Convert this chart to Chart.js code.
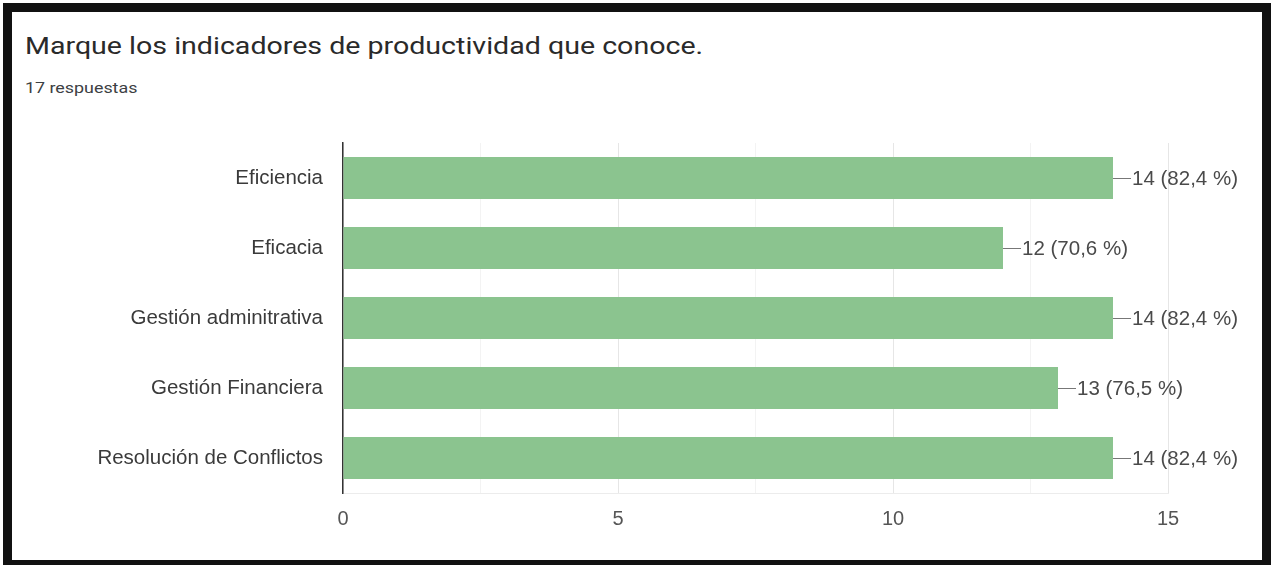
<!DOCTYPE html>
<html>
<head>
<meta charset="utf-8">
<script src="https://cdn.jsdelivr.net/npm/chart.js@4.4.1/dist/chart.umd.min.js"></script>
<style>
    body { margin: 0; background: #fff; }
    #frame {
        position: absolute;
        left: 3px; top: 3px;
        width: 1250px; height: 548px;
        border: 9px solid #111;
        background: #fff;
    }
    #title {
        position: absolute;
        left: 13px; top: 20px;
        font: 24px Roboto, sans-serif;
        color: #2a2a2a;
        white-space: nowrap;
        transform: scaleX(1.19);
        transform-origin: left top;
    }
    #subtitle {
        position: absolute;
        left: 13px; top: 67px;
        font: 15px Roboto, sans-serif;
        color: #3c4043;
        white-space: nowrap;
        transform: scaleX(1.19);
        transform-origin: left top;
    }
    #chartBox {
        position: absolute;
        left: 0; top: 108px;
        width: 1250px; height: 435px;
    }
</style>
</head>
<body>
<div id="frame">
    <div id="title">Marque los indicadores de productividad que conoce.</div>
    <div id="subtitle">17 respuestas</div>
    <div id="chartBox"><canvas id="indicatorChart"></canvas></div>
</div>

<script>
/* data */

const categories = [
    "Eficiencia",
    "Eficacia",
    "Gestión adminitrativa",
    "Gestión Financiera",
    "Resolución de Conflictos"
];
const responses = [14, 12, 14, 13, 14];
const totalResponses = 17;
const xTicks = [0, 5, 10, 15];

const barColor = "#8bc48f";
const fontFamily = "'Liberation Sans', Arial, sans-serif";

/* bar value labels with a short leader line */

const valueLabels = {
    id: "valueLabels",
    afterDatasetsDraw(chart) {
        const ctx = chart.ctx;
        const meta = chart.getDatasetMeta(0);
        ctx.save();
        ctx.font = `20.5px ${fontFamily}`;
        ctx.fillStyle = "#4a4a4a";
        ctx.strokeStyle = "#777";
        ctx.lineWidth = 1;
        ctx.textBaseline = "middle";
        meta.data.forEach((bar, i) => {
            const value = responses[i];
            const pct = (value / totalResponses * 100).toFixed(1).replace(".", ",");
            ctx.beginPath();
            ctx.moveTo(bar.x, bar.y + 0.5);
            ctx.lineTo(bar.x + 18, bar.y + 0.5);
            ctx.stroke();
            ctx.fillText(`${value} (${pct} %)`, bar.x + 19, bar.y + 1);
        });
        ctx.restore();
    }
};

new Chart(document.querySelector("#indicatorChart"), {
    type: "bar",
    data: {
        labels: categories,
        datasets: [
            {
                data: responses,
                backgroundColor: barColor,
                borderWidth: 0,
                categoryPercentage: 1,
                barPercentage: 0.6
            }
        ]
    },
    options: {
        indexAxis: "y",
        responsive: true,
        maintainAspectRatio: false,
        animation: false,
        layout: {
            padding: { top: 23, right: 94, bottom: 0, left: 0 }
        },
        plugins: {
            legend: { display: false },
            tooltip: { enabled: false }
        },
        scales: {
            x: {
                min: 0,
                max: 15,
                afterBuildTicks: scale => {
                    scale.ticks = [0, 2.5, 5, 7.5, 10, 12.5, 15].map(v => ({ value: v }));
                },
                afterFit: scale => { scale.height = 62; },
                grid: {
                    drawTicks: false,
                    color: ctx => (xTicks.includes(ctx.tick.value) ? "#e6e6e6" : "#f3f3f3")
                },
                border: { color: "#ececec" },
                ticks: {
                    padding: 14,
                    color: "#555",
                    font: { family: fontFamily, size: 20 },
                    callback: value => (xTicks.includes(value) ? value : "")
                }
            },
            y: {
                afterFit: scale => {
                    scale.width = 331;
                    scale.paddingTop = 0;
                    scale.paddingBottom = 0;
                },
                grid: { display: false, drawTicks: false },
                border: { color: "#333", width: 1.5 },
                ticks: {
                    padding: 20,
                    color: "#3a3a3a",
                    font: { family: fontFamily, size: 20.5 }
                }
            }
        }
    },
    plugins: [valueLabels]
});
</script>
</body>
</html>
